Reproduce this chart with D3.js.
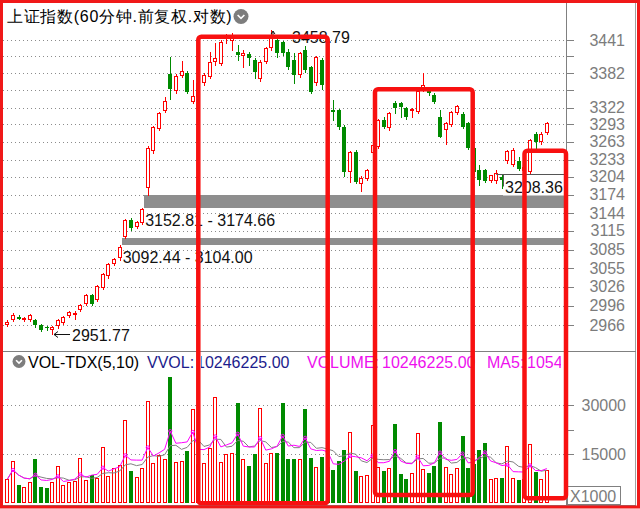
<!DOCTYPE html>
<html>
<head>
<meta charset="utf-8">
<script src="https://cdn.jsdelivr.net/npm/d3@7/dist/d3.min.js"></script>
<style>
  html, body { margin: 0; padding: 0; background: #fff; }
  svg { display: block; }
  text { font-family: "Liberation Sans", Arial, sans-serif; }
</style>
</head>
<body>
<svg id="chart" width="640" height="509"></svg>
<script>
// 60-minute bars of the Shanghai Composite, oldest first
const opens  = [2966,2974,2979,2974,2974,2974,2966,2963,2958,2964,2969.5,2980,2981.5,2989,2998.5,3012,3005,3024,3042.5,3062,
                3071,3106,3133,3122,3127.5,3186,3247,3285,3316.5,3380,3350,3377.5,3383,3331,3340,3365,3376,3402,3399,3442,
                3440,3420,3412,3416,3405,3371,3402,3426,3441,3438,3420,3405,3378.7,3423,3393,3365,3406,3355,3317.6,3317,
                3288,3212.5,3246,3193,3201,3244,3255,3300,3286,3330,3329,3321,3317,3315,3356,3352,3344,3305,3283,3291.8,
                3313,3311.5,3295,3252,3215,3215,3197,3197,3204,3230,3224,3230,3214,3212.5,3277,3262,3278];
const highs  = [2973,2984,2981,2978,2983,2976,2967,2965,2965,2976,2980,2987,2987,2999,3015,3014,3029,3048,3064,3072,
                3092.44,3135,3136,3132,3152.81,3256,3290,3315,3340,3410,3380,3404,3385,3370,3368,3382,3420,3435,3441,3452,
                3453,3432,3423,3420,3409,3405,3428,3458.79,3446,3440,3425,3418,3420,3430,3395,3412,3409,3358,3335,3320,
                3292,3248,3249,3206,3217,3260,3302,3306,3314,3334,3331,3323,3322,3353,3381.8,3358,3347,3317,3297,3316,
                3326,3315,3297,3254,3224,3217,3208,3215,3208,3250,3252,3237,3226,3268,3280,3280,3297];
const lows   = [2964,2972,2975,2972,2972,2963,2956,2958,2951.77,2962,2968,2979,2976,2988,2997,2997,3003,3022,3040,3060,
                3069,3104.00,3117,3120,3126,3174.66,3245,3283,3315,3336,3348,3376,3347,3329,3338,3361,3373,3396,3397,3436,
                3423,3405,3393,3396,3374,3368,3400,3424,3410,3414,3390,3365,3375,3384,3347,3362,3355,3326,3300,3285,
                3205,3196,3194,3180,3199,3224,3252,3287,3284,3313,3305,3303,3306,3313,3350,3343,3330,3271,3260,3290,
                3311,3287,3251,3208,3190,3195,3195,3194,3185,3228,3222,3215,3210,3210,3252,3260,3276];
const closes = [2971,2981,2976,2977,2981,2966,2958,2961,2963.5,2974,2978.5,2985.5,2985,2997,3012.7,2999,3027,3046,3062,3070,
                3089,3133,3120,3130,3151,3252,3288,3313,3333,3355,3377,3386,3349,3342,3365,3378.7,3402,3408,3438,3449,
                3450,3414,3418,3409,3384,3402,3426,3444,3417,3417,3393,3378.7,3417,3387.5,3349,3410,3361,3330,3314,3288,
                3212.5,3246,3196,3202,3215.5,3258,3300,3289,3312,3321,3323,3306,3320,3351,3361,3347,3332,3272,3295,3314,
                3324,3289,3253,3212,3199,3197,3206.5,3211,3199,3248,3249,3218,3220,3266,3262,3277,3295.5];
// volume per bar, in thousands
const volumes = [7254,12950,5510,4800,6520,13470,5000,4690,6330,11330,5510,6530,6840,13680,7040,8570,7750,17040,8370,10610,
                 11630,25410,9900,8060,10610,31220,12140,14690,13470,38500,12650,12950,15920,28680,12000,12140,16740,32350,12650,15000,
                 15410,30510,13470,11330,15000,28980,12140,15410,15410,30700,13470,13470,13470,28680,13780,10920,14170,11000,10100,12950,
                 16220,21630,9900,8370,8570,23880,10920,9900,10600,24180,8780,7250,9290,21330,10300,9290,11430,24900,10920,8780,
                 10610,20510,10610,12000,16220,18270,7250,7760,7760,17450,7760,6940,7480,17960,9590,7450,10246.225];

const priceGrid   = [2966,2996,3026,3055,3085,3115,3144,3174,3204,3233,3263,3293,3322,3352,3382,3412,3441];
const priceLabels = [2966,2996,3026,3055,3085,3115,3144,3174,3204,3233,3263,3293,3322,3382,3441];
const volGrid     = [15000,30000];
const volTicks    = [15000,22500,30000];

// price gaps left open by the rally
const gapStart = [20,24];
const gapLow   = [3092.44,3152.81];
const gapHigh  = [3104.00,3174.66];

// drawn support line
const levelValue = 3208.36;
const levelFrom  = 87;

const RED = '#ff0000', GREEN = '#008a00', GRID = '#8c8c8c', AXIS = '#7c7c7c';
const PX0 = 3, PX1 = 566;
const n = opens.length;

const svg = d3.select('#chart');
const x  = d3.scaleLinear().domain([0, n - 1]).range([7.3, 546.8]);
const y  = d3.scaleLog().domain([priceGrid[0], priceGrid[priceGrid.length - 1]]).range([325, 40]);
const yv = d3.scaleLinear().domain([0, 15000]).range([503, 454]);
const px = v => Math.round(v);

const bars = d3.range(n).map(i => ({i, o: opens[i], h: highs[i], l: lows[i], c: closes[i], v: volumes[i]}));
const isUp = d => d.c >= d.o;

// ---------- price panel ----------
const clipP = svg.append('clipPath').attr('id', 'clipPrice');
clipP.append('rect').attr('x', PX0).attr('y', 3).attr('width', PX1 - PX0).attr('height', 348);
const pricePanel = svg.append('g').attr('clip-path', 'url(#clipPrice)');

pricePanel.append('g').selectAll('line').data(priceGrid).join('line')
  .attr('x1', PX0).attr('x2', PX1)
  .attr('y1', d => px(y(d)) + 0.5).attr('y2', d => px(y(d)) + 0.5)
  .attr('stroke', GRID).attr('stroke-dasharray', '1,3');

// gap bands
const gapIdx = d3.range(gapStart.length);
pricePanel.append('g').selectAll('rect').data(gapIdx).join('rect')
  .attr('x', k => px(x(gapStart[k])) + 2)
  .attr('y', k => px(y(gapHigh[k])))
  .attr('width', k => PX1 - (px(x(gapStart[k])) + 2))
  .attr('height', k => px(y(gapLow[k])) - px(y(gapHigh[k])))
  .attr('fill', '#8e8e8e');

pricePanel.append('g').selectAll('text').data(gapIdx).join('text')
  .attr('x', k => x(gapStart[k]) + 3)
  .attr('y', k => y(gapLow[k]) + 18)
  .attr('font-size', 16).attr('fill', '#111')
  .text(k => `${gapLow[k].toFixed(2)} - ${gapHigh[k].toFixed(2)}`);

// candles
const cg = pricePanel.append('g').attr('shape-rendering', 'crispEdges');
bars.forEach(d => {
  const cx = px(x(d.i));
  const top = px(y(Math.max(d.o, d.c)));
  const bot = px(y(Math.min(d.o, d.c)));
  const hi = px(y(d.h)), lo = px(y(d.l));
  const col = isUp(d) ? RED : GREEN;
  if (isUp(d)) {
    cg.append('line').attr('x1', cx + 0.5).attr('x2', cx + 0.5).attr('y1', hi).attr('y2', top).attr('stroke', col);
    cg.append('line').attr('x1', cx + 0.5).attr('x2', cx + 0.5).attr('y1', bot).attr('y2', lo + 1).attr('stroke', col);
    cg.append('rect').attr('x', cx - 1.5).attr('y', top + 0.5).attr('width', 3).attr('height', Math.max(1, bot - top - 1))
      .attr('fill', '#fff').attr('stroke', col);
  } else {
    cg.append('line').attr('x1', cx + 0.5).attr('x2', cx + 0.5).attr('y1', hi).attr('y2', lo + 1).attr('stroke', col);
    cg.append('rect').attr('x', cx - 2).attr('y', top).attr('width', 4).attr('height', Math.max(1, bot - top))
      .attr('fill', col);
  }
});

// support level with its price tag
const yl = px(y(levelValue)) + 0.5;
pricePanel.append('rect').attr('x', 503).attr('y', yl).attr('width', PX1 - 503).attr('height', 21).attr('fill', '#fff');
pricePanel.append('line').attr('x1', x(levelFrom)).attr('x2', PX1).attr('y1', yl).attr('y2', yl).attr('stroke', '#555');
pricePanel.append('line').attr('x1', 503.5).attr('x2', 503.5).attr('y1', yl).attr('y2', yl + 12).attr('stroke', '#555');
pricePanel.append('text').attr('x', 505).attr('y', yl + 18).attr('font-size', 16).attr('fill', '#111')
  .text(levelValue.toFixed(2));

// highest high / lowest low markers
const iMax = d3.maxIndex(highs), iMin = d3.minIndex(lows);
{
  const hx = px(x(iMax)) + 2, hy = y(highs[iMax]);
  pricePanel.append('path')
    .attr('d', `M${hx},${hy + 1} L${hx},${hy + 7} L${hx + 16},${hy + 7} M${hx - 2},${hy + 4} L${hx},${hy + 1} L${hx + 2},${hy + 4}`)
    .attr('fill', 'none').attr('stroke', '#111');
  pricePanel.append('text').attr('x', hx + 19).attr('y', hy + 13).attr('font-size', 16).attr('fill', '#111')
    .text(highs[iMax].toFixed(2));

  const lx = px(x(iMin)) + 2, ly = px(y(lows[iMin])) + 0.5;
  pricePanel.append('path')
    .attr('d', `M${lx + 16},${ly} L${lx},${ly} M${lx + 4},${ly - 3} L${lx},${ly} L${lx + 4},${ly + 3}`)
    .attr('fill', 'none').attr('stroke', '#111');
  pricePanel.append('text').attr('x', lx + 18).attr('y', ly + 6).attr('font-size', 16).attr('fill', '#111')
    .text(lows[iMin].toFixed(2));
}

// ---------- volume panel ----------
const volPanel = svg.append('g');
volPanel.append('g').selectAll('line').data(volGrid).join('line')
  .attr('x1', PX0).attr('x2', PX1)
  .attr('y1', d => px(yv(d)) + 0.5).attr('y2', d => px(yv(d)) + 0.5)
  .attr('stroke', GRID).attr('stroke-dasharray', '1,3');

const vg = volPanel.append('g').attr('shape-rendering', 'crispEdges');
bars.forEach(d => {
  const cx = px(x(d.i));
  const top = Math.max(376, px(yv(d.v)));
  const base = px(yv(0));
  if (isUp(d)) {
    vg.append('rect').attr('x', cx - 1.5).attr('y', top + 0.5).attr('width', 3).attr('height', base - top - 1)
      .attr('fill', '#fff').attr('stroke', RED);
  } else {
    vg.append('rect').attr('x', cx - 2).attr('y', top).attr('width', 4).attr('height', base - top).attr('fill', GREEN);
  }
});

const movingAvg = (arr, k) => arr.map((_, i) => d3.mean(arr.slice(Math.max(0, i - k + 1), i + 1)));
const ma5 = movingAvg(volumes, 5), ma10 = movingAvg(volumes, 10);
const vline = d3.line().x((d, i) => x(i)).y(d => yv(d));
volPanel.append('path').attr('d', vline(ma10)).attr('fill', 'none').attr('stroke', '#808080').attr('stroke-width', 1);
volPanel.append('path').attr('d', vline(ma5)).attr('fill', 'none').attr('stroke', '#ff00ff').attr('stroke-width', 1);
// first bar of every session
volPanel.append('g').selectAll('circle').data(d3.range(1, n, 4)).join('circle')
  .attr('cx', i => x(i)).attr('cy', i => yv(ma5[i])).attr('r', 1.6)
  .attr('fill', 'none').attr('stroke', '#ff00ff');

// ---------- frames and axes ----------
const frame = svg.append('g').attr('shape-rendering', 'crispEdges');
frame.append('line').attr('x1', PX1 + 0.5).attr('x2', PX1 + 0.5).attr('y1', 3).attr('y2', 505).attr('stroke', '#808080');
frame.append('line').attr('x1', 635.5).attr('x2', 635.5).attr('y1', 3).attr('y2', 505).attr('stroke', '#a0a0a0');
frame.append('line').attr('x1', PX0).attr('x2', 636).attr('y1', 351.5).attr('y2', 351.5).attr('stroke', '#808080');
frame.append('line').attr('x1', PX0).attr('x2', 636).attr('y1', 505.5).attr('y2', 505.5).attr('stroke', '#808080');

frame.selectAll('.ptick').data(priceGrid).join('line').attr('class', 'ptick')
  .attr('x1', PX1).attr('x2', PX1 + 8).attr('y1', d => px(y(d)) + 0.5).attr('y2', d => px(y(d)) + 0.5)
  .attr('stroke', '#808080');
svg.append('g').selectAll('text').data(priceLabels).join('text')
  .attr('x', 625).attr('y', d => y(d) + 5.5).attr('text-anchor', 'end')
  .attr('font-size', 16).attr('fill', AXIS).text(d => d);

frame.selectAll('.vtick').data(volTicks).join('line').attr('class', 'vtick')
  .attr('x1', PX1).attr('x2', PX1 + 8).attr('y1', d => px(yv(d)) + 0.5).attr('y2', d => px(yv(d)) + 0.5)
  .attr('stroke', '#808080');
svg.append('g').selectAll('text').data(volGrid).join('text')
  .attr('x', 626).attr('y', d => yv(d) + 5.5).attr('text-anchor', 'end')
  .attr('font-size', 16).attr('fill', AXIS).text(d => d);

svg.append('rect').attr('x', 567.5).attr('y', 486.5).attr('width', 53).attr('height', 18)
  .attr('fill', '#fff').attr('stroke', '#808080');
svg.append('text').attr('x', 570).attr('y', 502).attr('font-size', 16).attr('fill', AXIS).text('X1000');

// ---------- headers ----------
const chevronIcon = (cx, cy, r) => {
  svg.append('circle').attr('cx', cx).attr('cy', cy).attr('r', r).attr('fill', '#7d7d7d');
  svg.append('path').attr('d', `M${cx - r * 0.45},${cy - r * 0.2} L${cx},${cy + r * 0.25} L${cx + r * 0.45},${cy - r * 0.2}`)
    .attr('fill', 'none').attr('stroke', '#fff').attr('stroke-width', 1.6);
};
svg.append('text').attr('x', 7).attr('y', 22).attr('font-size', 16).attr('letter-spacing', 0.7)
  .attr('font-family', '"Noto Sans CJK SC", sans-serif').attr('fill', '#000')
  .text('上证指数(60分钟.前复权.对数)');
chevronIcon(241, 16.5, 7.5);

chevronIcon(19, 361.5, 6.5);
svg.append('text').attr('x', 28).attr('y', 368).attr('font-size', 16).attr('fill', '#000').text('VOL-TDX(5,10)');
const lastVol = (volumes[n - 1] * 1000).toFixed(2);
svg.append('text').attr('x', 147).attr('y', 368).attr('font-size', 16).attr('fill', '#1c1c8c').text('VVOL:');
const vvClip = svg.append('clipPath').attr('id', 'clipVV');
vvClip.append('rect').attr('x', 201).attr('y', 352).attr('width', 120).attr('height', 20);
svg.append('text').attr('clip-path', 'url(#clipVV)').attr('x', 196).attr('y', 368).attr('font-size', 16)
  .attr('fill', '#1c1c8c').text(lastVol);
const hdrClip = svg.append('clipPath').attr('id', 'clipHdr');
hdrClip.append('rect').attr('x', PX0).attr('y', 352).attr('width', 561 - PX0).attr('height', 20);
const mag = svg.append('g').attr('clip-path', 'url(#clipHdr)').attr('font-size', 16).attr('fill', '#ee10ee');
mag.append('text').attr('x', 307).attr('y', 368).text('VOLUME:');
mag.append('text').attr('x', 382).attr('y', 368).text(lastVol);
mag.append('text').attr('x', 487).attr('y', 368).text('MA5:');
mag.append('text').attr('x', 527).attr('y', 368).text((ma5[n - 1] * 1000).toFixed(2));

// ---------- hand-drawn highlight boxes ----------
const boxes = [
  {l: 198.3, r: 327.7, t: 36.7, b: 503.3},
  {l: 375,   r: 472.7, t: 89.3, b: 495},
  {l: 524.5, r: 566,   t: 150.7, b: 498.3}
];
svg.append('g').selectAll('rect').data(boxes).join('rect')
  .attr('x', d => d.l).attr('y', d => d.t).attr('width', d => d.r - d.l).attr('height', d => d.b - d.t)
  .attr('rx', 3).attr('fill', 'none').attr('stroke', '#f81010').attr('stroke-width', 4.5);

// outer frame
svg.append('rect').attr('x', 1.5).attr('y', 1.5).attr('width', 637).attr('height', 505.5)
  .attr('fill', 'none').attr('stroke', '#f01818').attr('stroke-width', 3);
</script>
</body>
</html>
